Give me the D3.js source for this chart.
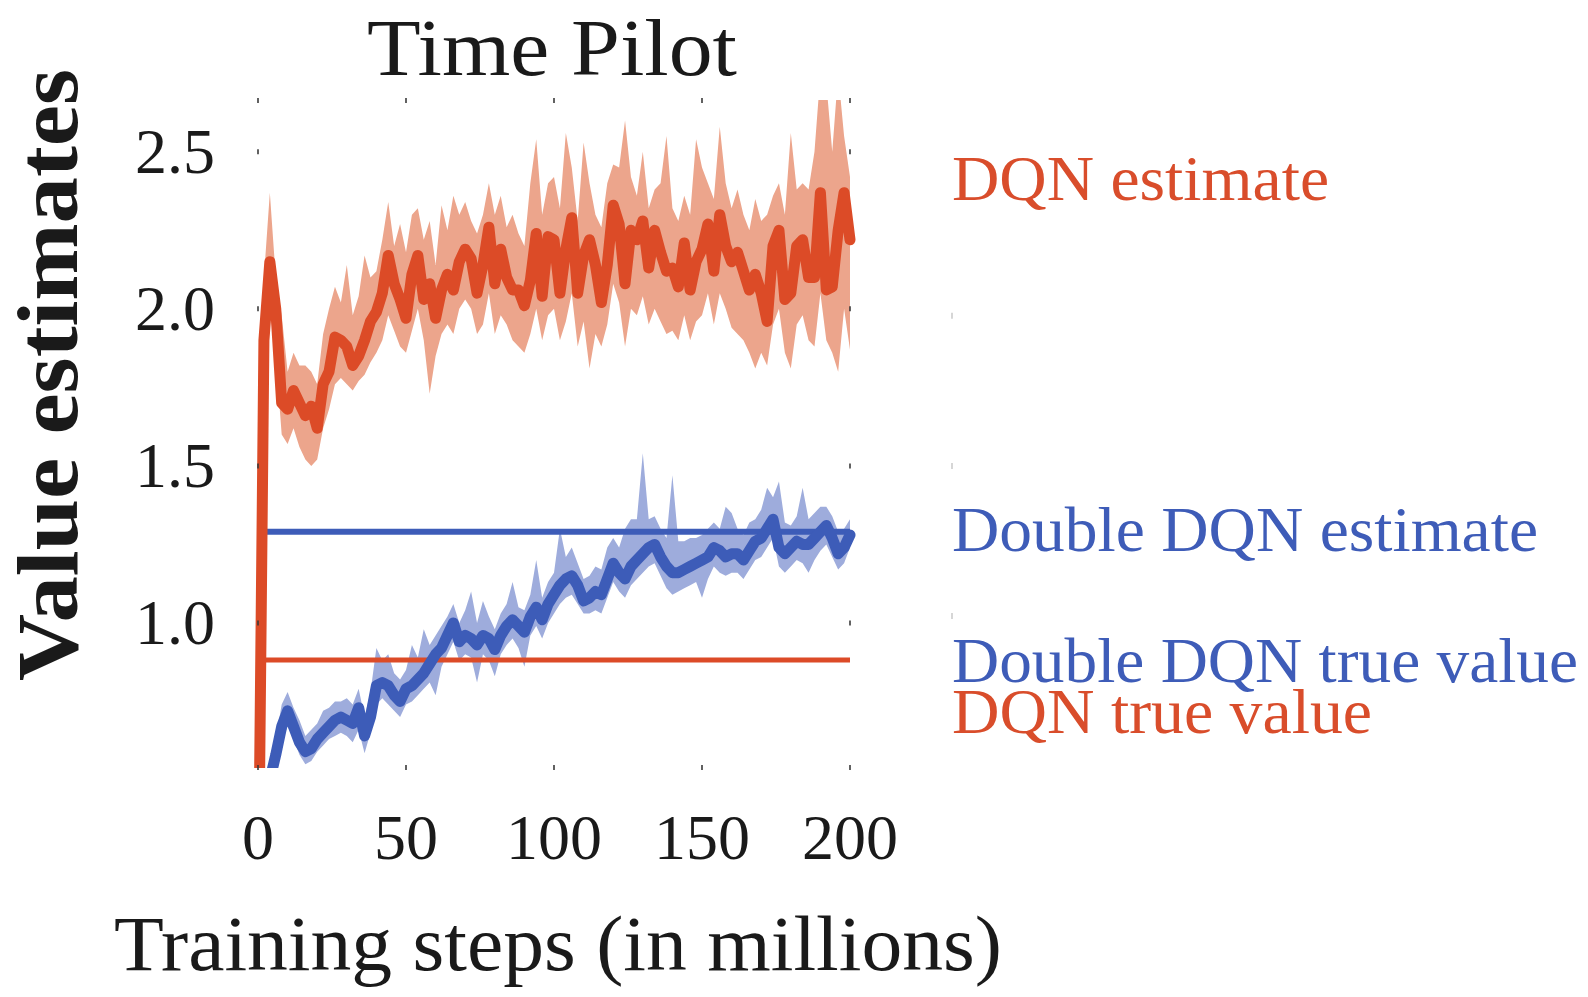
<!DOCTYPE html>
<html>
<head>
<meta charset="utf-8">
<script src="https://cdn.jsdelivr.net/npm/d3@7"></script>
<style>
  html, body { margin: 0; padding: 0; background: #fff; }
  svg { display: block; }
  text { font-family: "Liberation Serif", "DejaVu Serif", serif; }
</style>
</head>
<body>
<svg id="chart" width="1588" height="997"></svg>
<script>
// Training steps (millions), sampled every 2M
const steps = d3.range(0, 201, 2);

// DQN value estimate: mean and spread band
const dqnMean = [
  0.00, 1.90, 2.15, 2.00, 1.70, 1.68, 1.74, 1.70, 1.66, 1.69,
  1.62, 1.76, 1.80, 1.91, 1.90, 1.88, 1.82, 1.85, 1.90, 1.96,
  1.99, 2.05, 2.17, 2.08, 2.03, 1.97, 2.11, 2.17, 2.03, 2.08,
  1.97, 2.06, 2.11, 2.06, 2.15, 2.19, 2.16, 2.05, 2.14, 2.26,
  2.08, 2.19, 2.10, 2.06, 2.06, 2.01, 2.09, 2.24, 2.04, 2.23,
  2.22, 2.05, 2.19, 2.29, 2.05, 2.17, 2.22, 2.14, 2.02, 2.14,
  2.33, 2.27, 2.08, 2.25, 2.22, 2.28, 2.13, 2.25, 2.18, 2.12,
  2.13, 2.07, 2.21, 2.06, 2.15, 2.19, 2.27, 2.12, 2.30, 2.20,
  2.15, 2.18, 2.12, 2.06, 2.11, 2.05, 1.96, 2.20, 2.25, 2.03,
  2.05, 2.20, 2.22, 2.10, 2.10, 2.37, 2.06, 2.07, 2.25, 2.37,
  2.22
];
const dqnUpper = [
  0.05, 2.10, 2.37, 2.10, 1.98, 1.80, 1.86, 1.82, 1.82, 1.80,
  1.76, 1.92, 2.00, 2.07, 2.02, 2.14, 1.98, 2.04, 2.17, 2.10,
  2.12, 2.22, 2.34, 2.20, 2.27, 2.18, 2.30, 2.32, 2.22, 2.28,
  2.14, 2.33, 2.25, 2.36, 2.30, 2.34, 2.28, 2.24, 2.30, 2.40,
  2.30, 2.36, 2.26, 2.30, 2.24, 2.20, 2.40, 2.54, 2.30, 2.40,
  2.42, 2.32, 2.56, 2.45, 2.28, 2.53, 2.40, 2.30, 2.26, 2.40,
  2.46, 2.45, 2.60, 2.42, 2.36, 2.50, 2.32, 2.38, 2.40, 2.55,
  2.32, 2.28, 2.36, 2.30, 2.54, 2.45, 2.40, 2.35, 2.58, 2.40,
  2.32, 2.38, 2.30, 2.25, 2.35, 2.28, 2.30, 2.36, 2.40, 2.30,
  2.56, 2.38, 2.40, 2.38, 2.50, 2.75, 2.72, 2.50, 2.75, 2.55,
  2.42
];
const dqnLower = [
  -0.05, 1.75, 2.00, 1.85, 1.60, 1.57, 1.62, 1.56, 1.52, 1.50,
  1.52, 1.62, 1.68, 1.76, 1.78, 1.76, 1.74, 1.77, 1.79, 1.83,
  1.86, 1.90, 1.98, 1.93, 1.88, 1.86, 1.93, 2.00, 1.90, 1.73,
  1.85, 1.92, 1.95, 1.92, 2.00, 2.03, 2.00, 1.92, 1.95, 2.05,
  1.92, 1.98, 1.95, 1.90, 1.88, 1.86, 1.92, 2.00, 1.90, 1.98,
  2.00, 1.90, 1.96, 2.05, 1.88, 1.96, 1.81, 1.92, 1.88, 1.95,
  2.08, 2.02, 1.88, 2.00, 1.98, 2.04, 1.95, 2.00, 1.96, 1.92,
  1.93, 1.90, 1.98, 1.90, 1.96, 1.98, 2.05, 1.95, 2.05, 2.00,
  1.94, 1.92, 1.90, 1.86, 1.81, 1.86, 1.82, 1.95, 2.00, 1.86,
  1.81, 1.95, 1.98, 1.90, 1.88, 2.05, 1.90, 1.86, 1.80, 2.00,
  1.87
];

// Double DQN value estimate: mean and spread band
const ddqnMean = [
  0.30, 0.40, 0.50, 0.58, 0.67, 0.72, 0.67, 0.62, 0.59, 0.60,
  0.63, 0.65, 0.67, 0.69, 0.70, 0.69, 0.68, 0.73, 0.64, 0.70,
  0.80, 0.81, 0.80, 0.77, 0.75, 0.79, 0.80, 0.82, 0.84, 0.87,
  0.90, 0.92, 0.96, 1.00, 0.94, 0.96, 0.95, 0.93, 0.96, 0.95,
  0.915, 0.96, 0.99, 1.01, 0.99, 0.97, 1.02, 1.05, 1.01, 1.06,
  1.09, 1.12, 1.14, 1.15, 1.12, 1.07, 1.08, 1.10, 1.09, 1.14,
  1.19, 1.16, 1.14, 1.18, 1.20, 1.22, 1.24, 1.25, 1.21, 1.18,
  1.16, 1.16, 1.17, 1.18, 1.19, 1.20, 1.21, 1.24, 1.23, 1.21,
  1.22, 1.22, 1.20, 1.23, 1.26, 1.27, 1.30, 1.33, 1.24, 1.22,
  1.24, 1.26, 1.25, 1.25, 1.27, 1.29, 1.31, 1.27, 1.22, 1.24,
  1.28
];
const ddqnUpper = [
  0.32, 0.43, 0.54, 0.63, 0.74, 0.78, 0.73, 0.69, 0.64, 0.66,
  0.68, 0.72, 0.73, 0.75, 0.75, 0.76, 0.74, 0.79, 0.70, 0.78,
  0.92, 0.88, 0.90, 0.84, 0.82, 0.85, 0.93, 0.89, 0.98, 0.93,
  0.96, 0.99, 1.02, 1.06, 1.00, 1.04, 1.10, 1.00, 1.07, 1.02,
  0.98, 1.03, 1.06, 1.13, 1.05, 1.04, 1.09, 1.20, 1.08, 1.13,
  1.16, 1.30, 1.21, 1.24, 1.19, 1.14, 1.15, 1.18, 1.17, 1.24,
  1.27, 1.24, 1.30, 1.33, 1.33, 1.54, 1.33, 1.34, 1.30, 1.27,
  1.47, 1.26, 1.26, 1.27, 1.27, 1.28, 1.30, 1.32, 1.30, 1.37,
  1.35, 1.30, 1.28, 1.32, 1.33, 1.36, 1.43, 1.40, 1.45, 1.32,
  1.31, 1.34, 1.43, 1.33, 1.35, 1.37, 1.37, 1.34, 1.29, 1.30,
  1.33
];
const ddqnLower = [
  0.28, 0.37, 0.47, 0.54, 0.62, 0.67, 0.63, 0.58, 0.55, 0.56,
  0.59, 0.61, 0.63, 0.64, 0.65, 0.64, 0.62, 0.66, 0.585, 0.65,
  0.74, 0.76, 0.74, 0.72, 0.70, 0.74, 0.75, 0.77, 0.79, 0.81,
  0.77, 0.86, 0.90, 0.94, 0.88, 0.90, 0.89, 0.81, 0.90, 0.88,
  0.83, 0.90, 0.93, 0.95, 0.92, 0.86, 0.96, 0.99, 0.95, 1.00,
  1.03, 1.06, 1.08, 1.09, 1.06, 1.03, 1.03, 1.04, 1.03, 1.08,
  1.13, 1.10, 1.08, 1.12, 1.14, 1.16, 1.18, 1.19, 1.15, 1.11,
  1.09, 1.10, 1.11, 1.12, 1.13, 1.08, 1.14, 1.18, 1.16, 1.15,
  1.16, 1.16, 1.14, 1.17, 1.20, 1.21, 1.24, 1.27, 1.18, 1.16,
  1.18, 1.20, 1.19, 1.16, 1.20, 1.23, 1.25, 1.21, 1.17, 1.19,
  1.24
];

// True values (constant reference lines)
const ddqnTrueValue = 1.29;
const dqnTrueValue = 0.882;

// Axis ticks
const xTicks = [0, 50, 100, 150, 200];
const yTicks = [1.0, 1.5, 2.0, 2.5];
const yTickLabels = ["1.0", "1.5", "2.0", "2.5"];
// Faint marks at the far right margin
const sideMarks = [1.978, 1.50, 1.022];

const labels = [
  { text: "DQN estimate", color: "#d94d2b", y: 200, w: 377 },
  { text: "Double DQN estimate", color: "#3e5cb8", y: 551, w: 586 },
  { text: "Double DQN true value", color: "#3e5cb8", y: 682, w: 626 },
  { text: "DQN true value", color: "#d94d2b", y: 733, w: 420 }
];

const RED = "#dc4b27", RED_BAND = "#eca58c";
const BLUE = "#3d5cb8", BLUE_BAND = "#9eacdc";

const svg = d3.select("#chart");
const plot = { left: 258, right: 850, top: 100, bottom: 768 };

const x = d3.scaleLinear().domain([0, 200]).range([plot.left, plot.right]);
const y = d3.scaleLinear().domain([0.538, 2.665]).range([plot.bottom, plot.top]);

svg.append("defs").append("clipPath").attr("id", "plotClip")
  .append("rect")
  .attr("x", plot.left - 8).attr("y", plot.top)
  .attr("width", plot.right - plot.left + 16)
  .attr("height", plot.bottom - plot.top);

const g = svg.append("g").attr("clip-path", "url(#plotClip)");

const area = (lo, hi) => d3.area()
  .x((d, i) => x(steps[i]))
  .y0((d, i) => y(lo[i]))
  .y1((d, i) => y(hi[i]));
const line = d3.line().x((d, i) => x(steps[i])).y(d => y(d));

// Bands
g.append("path").attr("d", area(dqnLower, dqnUpper)(dqnMean))
  .attr("fill", RED_BAND);
g.append("path").attr("d", area(ddqnLower, ddqnUpper)(ddqnMean))
  .attr("fill", BLUE_BAND);

// True value lines
g.append("line")
  .attr("x1", x(0)).attr("x2", x(200))
  .attr("y1", y(ddqnTrueValue)).attr("y2", y(ddqnTrueValue))
  .attr("stroke", BLUE).attr("stroke-width", 6);
g.append("line")
  .attr("x1", x(0)).attr("x2", x(200))
  .attr("y1", y(dqnTrueValue)).attr("y2", y(dqnTrueValue))
  .attr("stroke", RED).attr("stroke-width", 5);

// Mean estimate lines
g.append("path").attr("d", line(dqnMean))
  .attr("fill", "none").attr("stroke", RED).attr("stroke-width", 11)
  .attr("stroke-linejoin", "round").attr("stroke-linecap", "round");
g.append("path").attr("d", line(ddqnMean))
  .attr("fill", "none").attr("stroke", BLUE).attr("stroke-width", 11)
  .attr("stroke-linejoin", "round").attr("stroke-linecap", "round");

// Small tick marks around the plot frame
const tickG = svg.append("g").attr("stroke", "#3a3a3a").attr("stroke-width", 1.6);
xTicks.forEach(t => {
  tickG.append("line").attr("x1", x(t)).attr("x2", x(t))
    .attr("y1", plot.top - 2).attr("y2", plot.top + 3);
  tickG.append("line").attr("x1", x(t)).attr("x2", x(t))
    .attr("y1", plot.bottom - 3).attr("y2", plot.bottom + 2);
});
yTicks.forEach(t => {
  tickG.append("line").attr("x1", plot.left).attr("x2", plot.left)
    .attr("y1", y(t) - 2.5).attr("y2", y(t) + 2.5);
  tickG.append("line").attr("x1", plot.right).attr("x2", plot.right)
    .attr("y1", y(t) - 2.5).attr("y2", y(t) + 2.5);
});
sideMarks.forEach(t => {
  svg.append("line").attr("x1", 952).attr("x2", 952)
    .attr("y1", y(t) - 3).attr("y2", y(t) + 3)
    .attr("stroke", "#bbb").attr("stroke-width", 1.2);
});

// Tick labels
svg.append("g").selectAll("text").data(yTicks).join("text")
  .attr("x", 215).attr("y", d => y(d) + 21)
  .attr("text-anchor", "end").attr("font-size", 64).attr("fill", "#1a1a1a")
  .text((d, i) => yTickLabels[i]);
svg.append("g").selectAll("text").data(xTicks).join("text")
  .attr("x", d => x(d)).attr("y", 859)
  .attr("text-anchor", "middle").attr("font-size", 64).attr("fill", "#1a1a1a")
  .text(d => d);

// Title and axis titles
svg.append("text").attr("x", 552).attr("y", 75)
  .attr("text-anchor", "middle").attr("font-size", 80).attr("fill", "#1a1a1a")
  .attr("textLength", 370).attr("lengthAdjust", "spacingAndGlyphs")
  .text("Time Pilot");
svg.append("text").attr("x", 114).attr("y", 970)
  .attr("font-size", 79).attr("fill", "#1a1a1a")
  .attr("textLength", 888).attr("lengthAdjust", "spacingAndGlyphs")
  .text("Training steps (in millions)");
svg.append("text")
  .attr("transform", "translate(77,375) rotate(-90)")
  .attr("text-anchor", "middle").attr("font-size", 86).attr("font-weight", "bold")
  .attr("fill", "#1a1a1a")
  .attr("textLength", 612).attr("lengthAdjust", "spacingAndGlyphs")
  .text("Value estimates");

// Series labels
svg.append("g").selectAll("text").data(labels).join("text")
  .attr("x", 952).attr("y", d => d.y)
  .attr("font-size", 63).attr("fill", d => d.color)
  .attr("textLength", d => d.w).attr("lengthAdjust", "spacingAndGlyphs")
  .text(d => d.text);
</script>
</body>
</html>
